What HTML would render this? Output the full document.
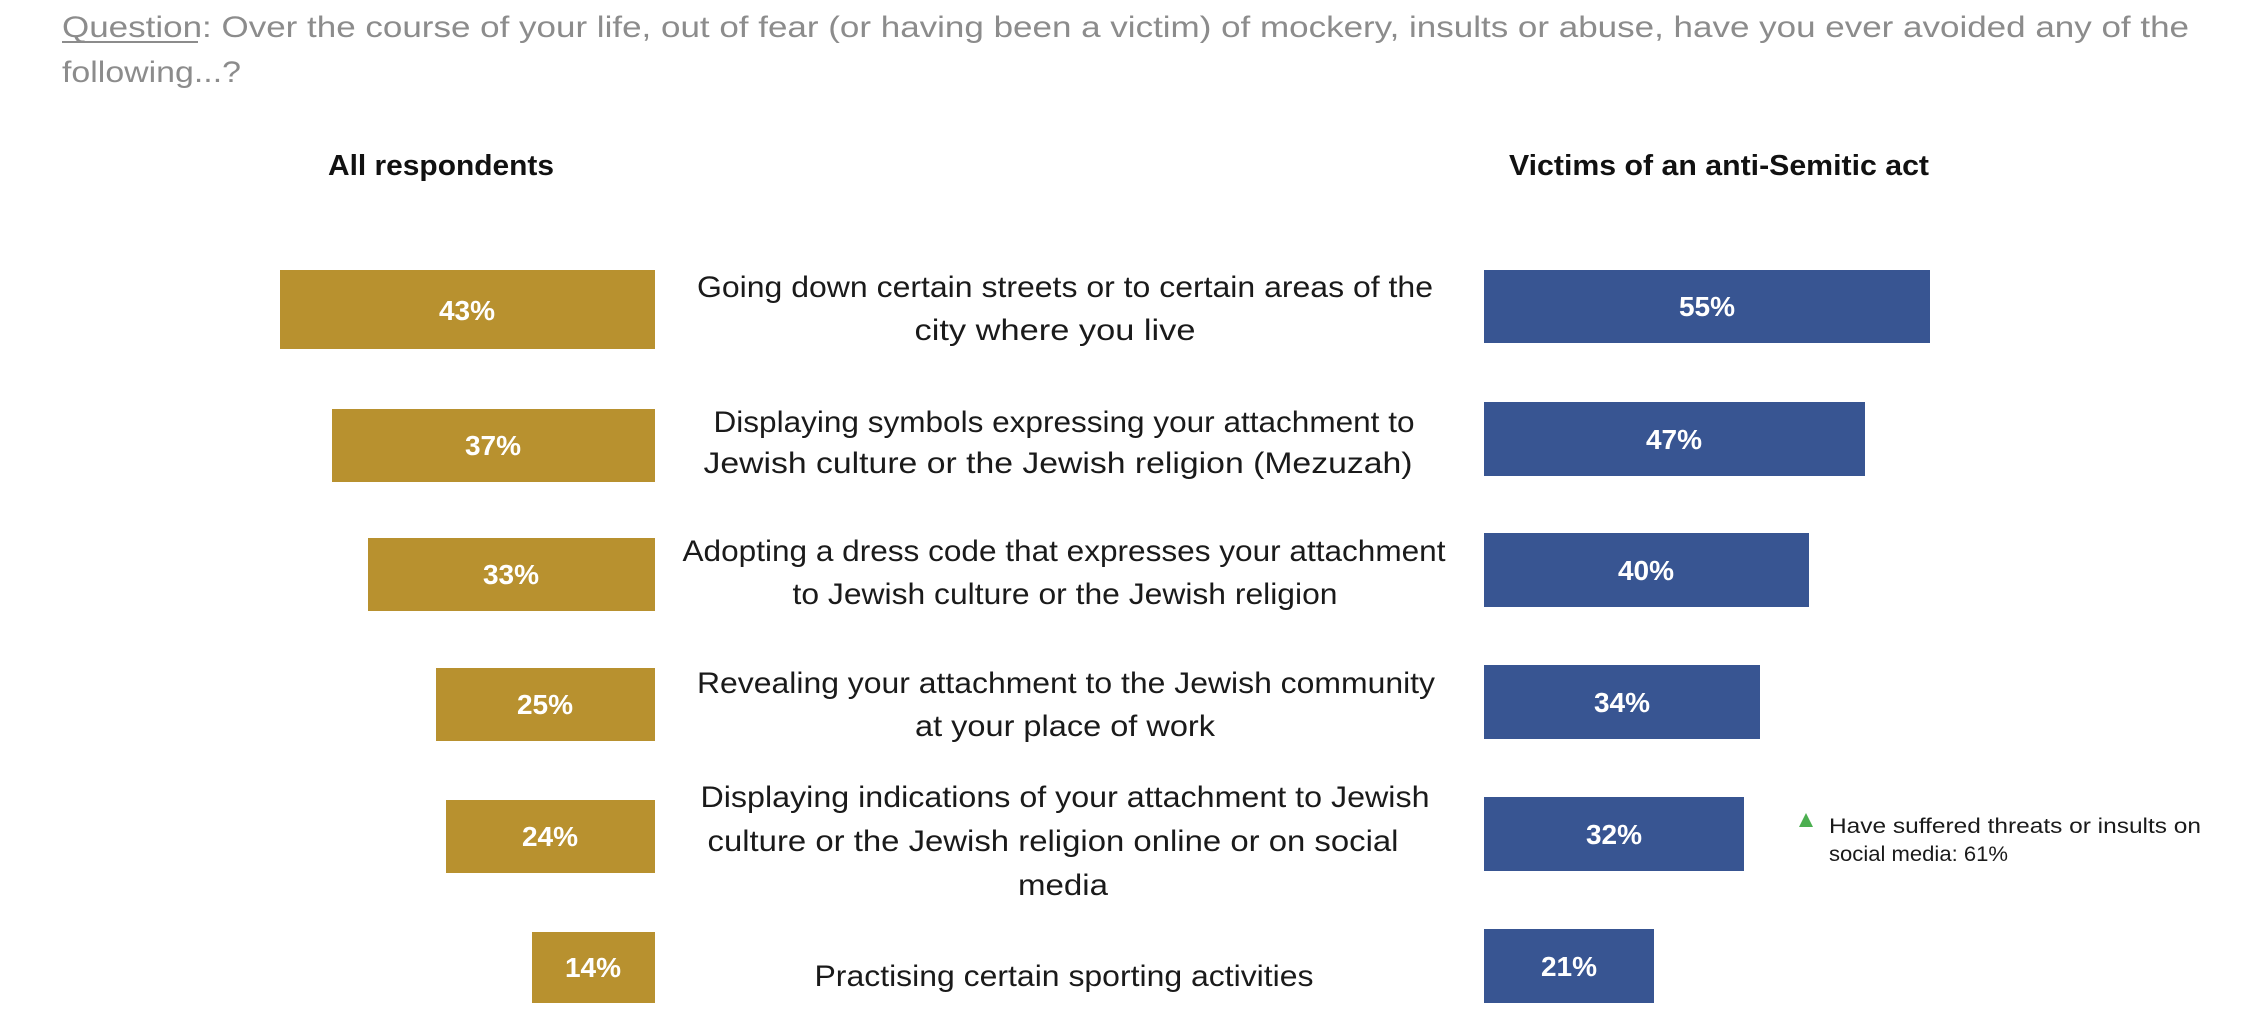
<!DOCTYPE html>
<html><head><meta charset="utf-8"><style>html,body{margin:0;padding:0;background:#fff;}svg{display:block}</style></head>
<body>
<svg width="2262" height="1034" viewBox="0 0 2262 1034" xmlns="http://www.w3.org/2000/svg" font-family="'Liberation Sans', sans-serif">
<g fill="#8c8c8c" font-size="30">
<text x="62" y="37" textLength="2127" lengthAdjust="spacingAndGlyphs">Question: Over the course of your life, out of fear (or having been a victim) of mockery, insults or abuse, have you ever avoided any of the</text>
<text x="62" y="82" textLength="179" lengthAdjust="spacingAndGlyphs">following...?</text>
</g>
<rect x="62" y="41" width="136" height="2" fill="#8c8c8c"/>
<g fill="#111" font-size="29" font-weight="bold">
<text x="328" y="175" textLength="226" lengthAdjust="spacingAndGlyphs">All respondents</text>
<text x="1509" y="175" textLength="420" lengthAdjust="spacingAndGlyphs">Victims of an anti-Semitic act</text>
</g>
<g fill="#b8912f">
<rect x="280" y="270" width="375" height="79"/>
<rect x="332" y="409" width="323" height="73"/>
<rect x="368" y="538" width="287" height="73"/>
<rect x="436" y="668" width="219" height="73"/>
<rect x="446" y="800" width="209" height="73"/>
<rect x="532" y="932" width="123" height="71"/>
</g>
<g fill="#385592">
<rect x="1484" y="270" width="446" height="73"/>
<rect x="1484" y="402" width="381" height="74"/>
<rect x="1484" y="533" width="325" height="74"/>
<rect x="1484" y="665" width="276" height="74"/>
<rect x="1484" y="797" width="260" height="74"/>
<rect x="1484" y="929" width="170" height="74"/>
</g>
<g fill="#fff" font-size="28" font-weight="bold" text-anchor="middle">
<text x="467" y="320">43%</text>
<text x="493" y="455">37%</text>
<text x="511" y="584">33%</text>
<text x="545" y="714">25%</text>
<text x="550" y="846">24%</text>
<text x="593" y="977">14%</text>
<text x="1707" y="316">55%</text>
<text x="1674" y="449">47%</text>
<text x="1646" y="580">40%</text>
<text x="1622" y="712">34%</text>
<text x="1614" y="844">32%</text>
<text x="1569" y="976">21%</text>
</g>
<g fill="#1a1a1a" font-size="30" text-anchor="middle">
<text x="1065" y="297" textLength="736" lengthAdjust="spacingAndGlyphs">Going down certain streets or to certain areas of the</text>
<text x="1055" y="340" textLength="281" lengthAdjust="spacingAndGlyphs">city where you live</text>
<text x="1064" y="432" textLength="701" lengthAdjust="spacingAndGlyphs">Displaying symbols expressing your attachment to</text>
<text x="1058" y="473" textLength="709" lengthAdjust="spacingAndGlyphs">Jewish culture or the Jewish religion (Mezuzah)</text>
<text x="1064" y="561" textLength="763" lengthAdjust="spacingAndGlyphs">Adopting a dress code that expresses your attachment</text>
<text x="1065" y="604" textLength="545" lengthAdjust="spacingAndGlyphs">to Jewish culture or the Jewish religion</text>
<text x="1066" y="693" textLength="738" lengthAdjust="spacingAndGlyphs">Revealing your attachment to the Jewish community</text>
<text x="1065" y="736" textLength="300" lengthAdjust="spacingAndGlyphs">at your place of work</text>
<text x="1065" y="807" textLength="729" lengthAdjust="spacingAndGlyphs">Displaying indications of your attachment to Jewish</text>
<text x="1053" y="851" textLength="691" lengthAdjust="spacingAndGlyphs">culture or the Jewish religion online or on social</text>
<text x="1063" y="895" textLength="90" lengthAdjust="spacingAndGlyphs">media</text>
<text x="1064" y="986" textLength="499" lengthAdjust="spacingAndGlyphs">Practising certain sporting activities</text>
</g>
<polygon points="1806,813 1813,827 1799,827" fill="#4caf50"/>
<g fill="#1a1a1a" font-size="21">
<text x="1829" y="833" textLength="372" lengthAdjust="spacingAndGlyphs">Have suffered threats or insults on</text>
<text x="1829" y="861" textLength="179" lengthAdjust="spacingAndGlyphs">social media: 61%</text>
</g>
</svg>
</body></html>
